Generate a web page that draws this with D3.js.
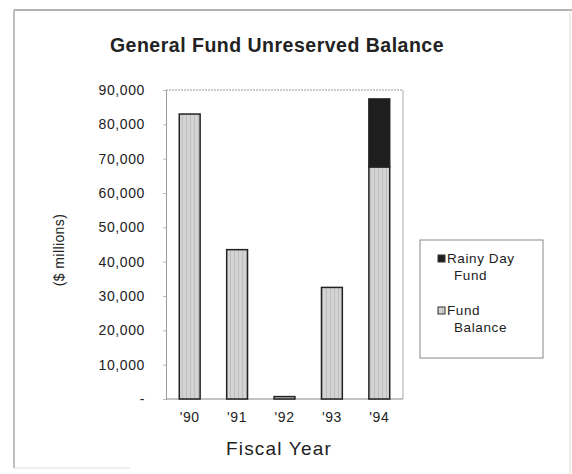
<!DOCTYPE html>
<html><head><meta charset="utf-8">
<script src="https://cdn.jsdelivr.net/npm/d3@7"></script>
<style>body{margin:0;background:#fff}svg{display:block}text{font-family:Arial,"Liberation Sans",sans-serif;fill:#222}</style>
</head><body><svg id="c" width="572" height="474"></svg>
<script>
const years = ["'90","'91","'92","'93","'94"];
const fundBalance = [83000, 43500, 700, 32500, 67600];
const rainyDay = [0, 0, 0, 0, 19800];
const yTicks = [0,10000,20000,30000,40000,50000,60000,70000,80000,90000];
const seriesNames = ["Rainy Day Fund","Fund Balance"];

const svg = d3.select("#c");
const defs = svg.append("defs");
const pat = defs.append("pattern").attr("id","stripe").attr("patternUnits","userSpaceOnUse").attr("width",4).attr("height",4);
pat.append("rect").attr("width",4).attr("height",4).attr("fill","#d4d4d4");
pat.append("rect").attr("x",2).attr("width",1).attr("height",4).attr("fill","#bdbdbd");

// outer frame
svg.append("line").attr("x1",14).attr("x2",572).attr("y1",10).attr("y2",10).attr("stroke","#999").attr("stroke-width",1.5);
svg.append("line").attr("x1",14).attr("x2",14).attr("y1",10).attr("y2",468).attr("stroke","#aaa").attr("stroke-width",1.5);
svg.append("line").attr("x1",14).attr("x2",130).attr("y1",468).attr("y2",468).attr("stroke","#ddd").attr("stroke-width",1);
svg.append("line").attr("x1",570).attr("x2",570).attr("y1",10).attr("y2",474).attr("stroke","#ddd").attr("stroke-width",1);

const L=166,R=403,T=90,B=399;
const x = d3.scaleBand().domain(years).range([L,R]).paddingInner(0.56).paddingOuter(0.28);
const y = d3.scaleLinear().domain([0,90000]).range([B,T]);

// plot border
svg.append("line").attr("x1",L).attr("x2",R).attr("y1",T).attr("y2",T).attr("stroke","#999").attr("stroke-dasharray","2,1");
svg.append("line").attr("x1",R).attr("x2",R).attr("y1",T).attr("y2",B).attr("stroke","#aaa");
svg.append("line").attr("x1",L).attr("x2",R).attr("y1",B).attr("y2",B).attr("stroke","#888");

// y axis
const ya = svg.append("g").attr("transform",`translate(${L},0)`)
  .call(d3.axisLeft(y).tickValues(yTicks).tickSize(3).tickPadding(18)
    .tickFormat(d => d===0 ? "-" : d3.format(",")(d)));
ya.select(".domain").attr("stroke","#999");
ya.selectAll(".tick line").attr("stroke","#bbb");
ya.selectAll("text").attr("font-size",14).attr("fill","#333").attr("letter-spacing",0.6).style("font-family","Arial,'Liberation Sans',sans-serif");

// x axis labels
const xa = svg.append("g").attr("transform",`translate(0,${B})`)
  .call(d3.axisBottom(x).tickSize(0).tickPadding(13));
xa.select(".domain").remove();
xa.selectAll("text").attr("font-size",14).attr("fill","#333").attr("letter-spacing",0.6).style("font-family","Arial,'Liberation Sans',sans-serif");

// bars
const stack = years.map((yr,i)=>({yr, fb:fundBalance[i], rd:rainyDay[i]}));
svg.append("g").selectAll("rect").data(stack).join("rect")
  .attr("x",d=>x(d.yr)).attr("width",x.bandwidth())
  .attr("y",d=>y(d.fb)).attr("height",d=>B-y(d.fb))
  .attr("fill","url(#stripe)").attr("stroke","#222").attr("stroke-width",1.5);
svg.append("g").selectAll("rect").data(stack.filter(d=>d.rd>0)).join("rect")
  .attr("x",d=>x(d.yr)).attr("width",x.bandwidth())
  .attr("y",d=>y(d.fb+d.rd)).attr("height",d=>y(d.fb)-y(d.fb+d.rd))
  .attr("fill","#1e1e1e").attr("stroke","#222").attr("stroke-width",1.5);

// titles
svg.append("text").attr("x",277).attr("y",52).attr("text-anchor","middle").attr("font-size",19.5).attr("font-weight","bold").attr("letter-spacing",0.5).text("General Fund Unreserved Balance");
svg.append("text").attr("x",279).attr("y",455).attr("text-anchor","middle").attr("font-size",19).attr("letter-spacing",1.2).attr("fill","#333").text("Fiscal Year");
svg.append("text").attr("transform","translate(64,250) rotate(-90)").attr("text-anchor","middle").attr("font-size",14).attr("letter-spacing",0.4).attr("fill","#333").text("($ millions)");

// legend
const lg = svg.append("g");
lg.append("rect").attr("x",420).attr("y",240).attr("width",123).attr("height",118).attr("fill","#fff").attr("stroke","#888");
const items = [
  {name:seriesNames[0], lines:["Rainy Day","Fund"], fill:"#1e1e1e", y:263},
  {name:seriesNames[1], lines:["Fund","Balance"], fill:"url(#stripe)", y:315}
];
items.forEach(it=>{
  lg.append("rect").attr("x",438).attr("y",it.y-8).attr("width",7).attr("height",7).attr("fill",it.fill).attr("stroke","#333");
  it.lines.forEach((t,i)=>{
    lg.append("text").attr("x", i===0?447:454).attr("y",it.y+i*17).attr("font-size",13.5).attr("letter-spacing",0.6).attr("fill","#555").text(t);
  });
});
</script></body></html>
